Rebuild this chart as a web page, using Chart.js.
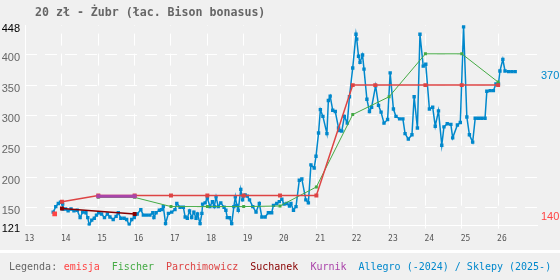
<!DOCTYPE html>
<html>
<head>
<meta charset="utf-8">
<script src="https://cdn.jsdelivr.net/npm/chart.js@4.4.1/dist/chart.umd.min.js"></script>
<style>
    html, body { margin: 0; padding: 0; background: #f0f0f0; }
    #wrap { position: relative; width: 560px; height: 280px; overflow: hidden; }
    #title { position: absolute; left: 35px; top: 5px; font: bold 11.6px "DejaVu Sans Mono", monospace; color: #666; white-space: pre; }
    #zubrChart { position: absolute; left: 0; top: 0; }
    #legend { position: absolute; left: 0; top: 250px; width: 560px; height: 30px; box-sizing: border-box;
              border-top: 3px solid #fff; padding-left: 9px; font: 10px "DejaVu Sans Mono", monospace;
              line-height: 27px; color: #666; white-space: nowrap; }
    #legend span { margin-left: 12px; }
    #legend span.first { margin-left: 6.5px; }
</style>
</head>
<body>
<div id="wrap">
    <canvas id="zubrChart" width="560" height="252"></canvas>
    <div id="title">20 zł - Żubr (łac. Bison bonasus)</div>
    <div id="legend">Legenda:<span class="first" style="color:#f44">emisja</span><span style="color:#44aa44">Fischer</span><span style="color:#dd4444">Parchimowicz</span><span style="color:#880000">Suchanek</span><span style="color:#aa44aa">Kurnik</span><span style="color:#0088cc">Allegro (-2024) / Sklepy (2025-)</span></div>
</div>
<script>
// osie
const yearTicks = [13, 14, 15, 16, 17, 18, 19, 20, 21, 22, 23, 24, 25, 26];
const priceTicks = [121, 150, 200, 250, 300, 350, 400, 448];
const lastTicks = [140, 370];

// emisja
const emisjaYears = [13.8];
const emisjaPrices = [140];

// Fischer
const fischerYears = [15, 16, 17, 18, 19, 20, 21, 22, 23, 24, 25, 26];
const fischerPrices = [167, 167, 152, 152, 152, 153, 184, 302, 331, 401, 401, 355];

// Parchimowicz
const parchYears = [14, 15, 16, 17, 18, 19, 20, 21, 22, 22.62, 24, 25, 26];
const parchPrices = [160, 170, 170, 170, 170, 170, 170, 170, 350, 350, 350, 350, 350];

// Suchanek
const suchanekYears = [14, 16];
const suchanekPrices = [149, 140];

// Kurnik
const kurnikYears = [15, 16];
const kurnikPrices = [169, 169];

// Allegro (-2024) / Sklepy (2025-)
const allegroYears = [
    13.76, 13.83, 13.90, 13.96, 14.02, 14.03, 14.10, 14.17, 14.25, 14.33, 14.42, 14.50, 14.57, 14.66, 14.71, 14.75,
    14.82, 14.89, 14.95, 15.01, 15.09, 15.17, 15.25, 15.32, 15.41, 15.49, 15.55, 15.62, 15.71, 15.78, 15.85, 15.92,
    15.99, 16.07, 16.17, 16.24, 16.33, 16.42, 16.50, 16.53, 16.59, 16.68, 16.74, 16.79, 16.85, 16.93, 17.02, 17.11,
    17.16, 17.25, 17.34, 17.39, 17.45, 17.51, 17.57, 17.63, 17.69, 17.73, 17.80, 17.85, 17.87, 17.94, 18.00, 18.07,
    18.14, 18.19, 18.24, 18.30, 18.37, 18.46, 18.51, 18.55, 18.61, 18.67, 18.73, 18.77, 18.81, 18.85, 18.92, 18.97,
    19.04, 19.10, 19.16, 19.25, 19.34, 19.43, 19.50, 19.59, 19.68, 19.77, 19.82, 19.91, 19.98, 20.05, 20.11, 20.19,
    20.26, 20.30, 20.37, 20.44, 20.53, 20.60, 20.71, 20.78, 20.85, 20.94, 20.99, 21.06, 21.11, 21.18, 21.29, 21.33,
    21.38, 21.45, 21.52, 21.61, 21.64, 21.70, 21.77, 21.85, 21.91, 22.00, 22.09, 22.11, 22.16, 22.20, 22.27, 22.31,
    22.39, 22.46, 22.52, 22.63, 22.71, 22.78, 22.86, 22.96, 23.03, 23.12, 23.19, 23.29, 23.38, 23.44, 23.53, 23.63,
    23.69, 23.78, 23.85, 23.94, 24.01, 24.11, 24.20, 24.27, 24.36, 24.45, 24.51, 24.60, 24.70, 24.75, 24.88, 24.96,
    25.05, 25.14, 25.21, 25.30, 25.37, 25.46, 25.55, 25.64, 25.69, 25.78, 25.87, 25.94, 26.01, 26.05, 26.13, 26.19,
    26.29, 26.38, 26.47
];
const allegroPrices = [
    143, 152, 157, 159, 156, 148, 148, 145, 148, 145, 146, 134, 143, 142, 134, 122,
    130, 133, 138, 142, 140, 134, 140, 135, 131, 136, 142, 133, 133, 131, 122, 131,
    134, 140, 147, 138, 138, 138, 142, 134, 142, 146, 147, 152, 124, 141, 143, 147,
    157, 151, 151, 135, 133, 145, 134, 143, 133, 140, 124, 141, 156, 158, 166, 152,
    160, 152, 168, 152, 158, 151, 146, 134, 134, 124, 152, 168, 154, 146, 180, 163,
    171, 169, 163, 152, 143, 157, 135, 135, 142, 142, 154, 157, 160, 164, 156, 157,
    153, 157, 146, 152, 195, 197, 163, 158, 220, 215, 234, 272, 310, 299, 271, 325,
    332, 309, 307, 280, 276, 275, 299, 288, 331, 378, 433, 425, 397, 387, 399, 376,
    327, 307, 314, 349, 317, 306, 288, 294, 370, 311, 299, 295, 295, 271, 262, 269,
    331, 280, 433, 381, 384, 311, 314, 283, 308, 252, 282, 287, 286, 264, 285, 289,
    445, 298, 269, 257, 296, 296, 296, 296, 340, 341, 341, 352, 352, 373, 392, 373,
    372, 372, 372
];

const BLUE = '#0088cc';
const RED = '#ff4444';
const NONE = 'rgba(0,0,0,0)';

document.addEventListener('DOMContentLoaded', () => {
    drawChart();
});

function toPoints(xs, ys) {
    return xs.map((x, i) => ({ x: x, y: ys[i] }));
}

function series(label, xs, ys, color, lineW, pointR, order) {
    return {
        label,
        data: toPoints(xs, ys),
        borderColor: color,
        backgroundColor: color,
        borderWidth: lineW,
        pointStyle: 'rect',
        pointRadius: pointR,
        pointBorderWidth: 0,
        tension: 0,
        order
    };
}

function drawChart() {
    const ctx = document.getElementById('zubrChart').getContext('2d');
    const tickFont = { family: '"Liberation Sans", Arial, sans-serif', size: 11 };

    new Chart(ctx, {
        type: 'line',
        data: {
            datasets: [
                series('emisja', emisjaYears, emisjaPrices, RED, 0, 3.3, 1),
                series('Kurnik', kurnikYears, kurnikPrices, '#aa44aa', 3, 2.8, 2),
                series('Suchanek', suchanekYears, suchanekPrices, '#880000', 1.5, 2.8, 3),
                series('Parchimowicz', parchYears, parchPrices, '#dd4444', 1.5, 2.8, 4),
                series('Fischer', fischerYears, fischerPrices, '#44aa44', 1, 2.1, 5),
                series('Allegro (-2024) / Sklepy (2025-)', allegroYears, allegroPrices, BLUE, 1.5, 2.4, 6)
            ]
        },
        options: {
            responsive: false,
            animation: false,
            events: [],
            layout: { padding: { top: 25, left: 0, right: 0, bottom: 0 } },
            plugins: {
                legend: { display: false },
                title: { display: false },
                tooltip: { enabled: false }
            },
            scales: {
                x: {
                    type: 'linear',
                    min: 13,
                    max: 27.07,
                    afterBuildTicks: a => { a.ticks = yearTicks.map(v => ({ value: v })); },
                    afterFit: a => { a.height = 26.4; },
                    grid: {
                        color: c => c.tick && c.tick.value === 13 ? NONE : '#ffffff',
                        drawTicks: true,
                        tickLength: 3
                    },
                    border: { color: '#ffffff', width: 1, dash: [12, 8], dashOffset: 11.4 },
                    ticks: {
                        autoSkip: false,
                        maxRotation: 0,
                        align: 'start',
                        labelOffset: -1,
                        padding: 5.6,
                        color: '#555',
                        font: { family: '"DejaVu Sans Mono", monospace', size: 8 },
                        callback: v => String(v)
                    }
                },
                y: {
                    min: 121,
                    max: 448,
                    afterBuildTicks: a => { a.ticks = priceTicks.map(v => ({ value: v })); },
                    afterFit: a => { a.width = 25.6; },
                    grid: {
                        color: c => (c.tick && (c.tick.value === 121 || c.tick.value === 448)) ? NONE : '#ffffff',
                        drawTicks: false
                    },
                    border: { color: '#ffffff', width: 1, dash: [12, 8], dashOffset: 1 },
                    ticks: {
                        autoSkip: false,
                        padding: 5.6,
                        labelOffset: 3.5,
                        color: c => (c.tick.value === 121 || c.tick.value === 448) ? '#000' : '#666',
                        font: tickFont,
                        callback: v => String(v)
                    }
                },
                y2: {
                    position: 'right',
                    min: 121,
                    max: 448,
                    afterBuildTicks: a => { a.ticks = lastTicks.map(v => ({ value: v })); },
                    afterFit: a => { a.width = 23; },
                    grid: { display: false, drawTicks: false },
                    border: { display: false },
                    ticks: {
                        autoSkip: false,
                        padding: 4,
                        labelOffset: 3,
                        color: c => c.tick.value === 370 ? BLUE : RED,
                        font: tickFont,
                        callback: v => String(v)
                    }
                }
            }
        }
    });
}
</script>
</body>
</html>
